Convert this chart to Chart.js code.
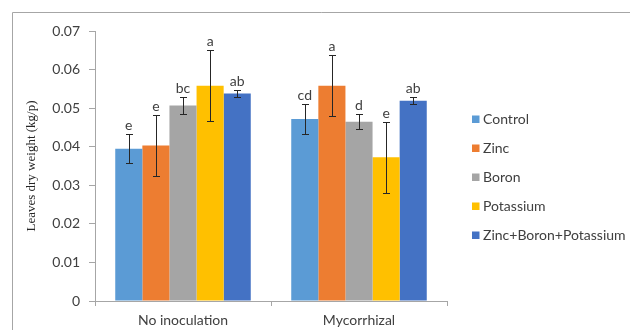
<!DOCTYPE html>
<html><head><meta charset="utf-8">
<script src="https://cdn.jsdelivr.net/npm/chart.js@4"></script>
<style>html,body{margin:0;padding:0;background:#fff}#wrap{width:630px;height:330px;position:relative}</style>
</head><body><div id="wrap"><canvas id="c" width="630" height="330"></canvas></div>
<script>
const categories = ['No inoculation', 'Mycorrhizal'];
const seriesNames = ['Control', 'Zinc', 'Boron', 'Potassium', 'Zinc+Boron+Potassium'];
const control = [0.0395, 0.0472];
const zinc = [0.0403, 0.0558];
const boron = [0.0507, 0.0465];
const potassium = [0.0558, 0.0373];
const zbp = [0.0538, 0.0519];
const controlErr = [0.0038, 0.0038];
const zincErr = [0.0078, 0.0079];
const boronErr = [0.0021, 0.0020];
const potassiumErr = [0.0092, 0.0092];
const zbpErr = [0.0010, 0.0009];
const controlLetters = ['e', 'cd'];
const zincLetters = ['e', 'a'];
const boronLetters = ['bc', 'd'];
const potassiumLetters = ['a', 'e'];
const zbpLetters = ['ab', 'ab'];
const yTicks = [0, 0.01, 0.02, 0.03, 0.04, 0.05, 0.06, 0.07];
const colors = ['#5B9BD5', '#ED7D31', '#A5A5A5', '#FFC000', '#4472C4'];

const values = [control, zinc, boron, potassium, zbp];
const errs = [controlErr, zincErr, boronErr, potassiumErr, zbpErr];
const letters = [controlLetters, zincLetters, boronLetters, potassiumLetters, zbpLetters];

const FONT = 'Lato, "Open Sans", sans-serif';
const AXIS = '#a6a6a6';
const TEXT = '#404040';
const FS = 14;

const extras = {
  id: 'extras',
  beforeDraw(chart) {
    const ctx = chart.ctx;
    ctx.save();
    ctx.strokeStyle = '#a6a6a6';
    ctx.lineWidth = 1;
    ctx.beginPath();
    ctx.moveTo(12.5, 330);
    ctx.lineTo(12.5, 12.5);
    ctx.lineTo(630, 12.5);
    ctx.stroke();
    ctx.restore();
  },
  afterDatasetsDraw(chart) {
    const ctx = chart.ctx;
    const y = chart.scales.y;
    ctx.save();
    chart.data.datasets.forEach((ds, di) => {
      const meta = chart.getDatasetMeta(di);
      meta.data.forEach((bar, i) => {
        const v = ds.data[i], e = errs[di][i];
        const x = Math.round(bar.x) + 0.5;
        const yt = Math.round(y.getPixelForValue(v + e)) + 0.5;
        const yb = Math.round(y.getPixelForValue(v - e)) + 0.5;
        ctx.strokeStyle = '#262626';
        ctx.lineWidth = 1;
        ctx.beginPath();
        ctx.moveTo(x, yt); ctx.lineTo(x, yb);
        ctx.moveTo(x - 3.5, yt); ctx.lineTo(x + 3.5, yt);
        ctx.moveTo(x - 3.5, yb); ctx.lineTo(x + 3.5, yb);
        ctx.stroke();
        ctx.fillStyle = TEXT;
        ctx.font = FS + 'px ' + FONT;
        ctx.textAlign = 'center';
        ctx.textBaseline = 'alphabetic';
        ctx.fillText(letters[di][i], bar.x, yt - 5);
      });
    });
    // legend
    const rows = [119, 148, 177, 206, 235];
    chart.data.datasets.forEach((ds, di) => {
      const cy = rows[di];
      ctx.fillStyle = ds.backgroundColor;
      ctx.fillRect(472, cy - 3.5, 7.5, 7.5);
      ctx.fillStyle = TEXT;
      ctx.font = FS + 'px ' + FONT;
      ctx.textAlign = 'left';
      ctx.textBaseline = 'middle';
      ctx.fillText(ds.label, 483, cy);
    });
    ctx.restore();
  }
};

new Chart(document.getElementById('c'), {
  type: 'bar',
  data: {
    labels: categories,
    datasets: seriesNames.map((n, i) => ({
      label: n,
      data: values[i],
      backgroundColor: colors[i],
      borderWidth: 0,
      categoryPercentage: 0.77,
      barPercentage: 1.0
    }))
  },
  options: {
    responsive: false,
    devicePixelRatio: 1,
    animation: false,
    layout: { padding: { left: 0, top: 31, right: 183, bottom: 0 } },
    plugins: { legend: { display: false }, tooltip: { enabled: false } },
    scales: {
      x: {
        grid: { offset: true, drawOnChartArea: false, drawTicks: true, tickLength: 5, color: AXIS },
        border: { color: AXIS },
        ticks: { color: TEXT, font: { family: FONT, size: FS }, padding: 6 },
        afterFit(s) { s.height = 29; }
      },
      y: {
        min: 0, max: 0.07,
        afterBuildTicks(s) { s.ticks = yTicks.map(v => ({ value: v })); },
        grid: { drawOnChartArea: false, drawTicks: true, tickLength: 6, color: AXIS },
        border: { color: AXIS },
        ticks: {
          color: TEXT, font: { family: FONT, size: FS }, padding: 9,
          callback: v => v === 0 ? '0' : v.toFixed(2)
        },
        title: {
          display: true, text: 'Leaves dry weight (kg/p)', color: '#262626',
          font: { family: '"Liberation Serif", "Times New Roman", serif', size: 13 },
          padding: { top: 24, bottom: 0 }
        },
        afterFit(s) { s.width = 95; }
      }
    }
  },
  plugins: [extras]
});
</script></body></html>
